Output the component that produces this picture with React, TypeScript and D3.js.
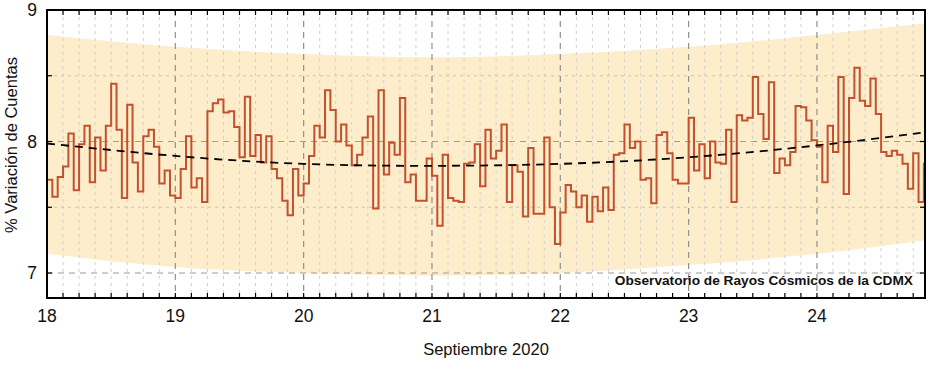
import * as d3 from "d3";

// horas desde el 18 sep 00:00 (un valor por hora)
const variacion = [
  7.71, 7.58, 7.73, 7.81, 8.06, 7.63, 7.98, 8.12, 7.69, 8.03, 7.78, 8.12,
  8.44, 8.09, 7.57, 8.28, 7.84, 7.62, 8.04, 8.09, 7.96, 7.68, 7.78, 7.59,
  7.57, 7.79, 8.04, 7.65, 7.72, 7.54, 8.23, 8.29, 8.32, 8.22, 8.23, 8.11,
  7.88, 8.34, 7.89, 8.05, 7.84, 8.04, 7.79, 7.72, 7.55, 7.44, 7.79, 7.59,
  7.68, 7.89, 8.12, 8.03, 8.39, 8.24, 8.0, 8.13, 7.97, 7.82, 7.9, 8.03,
  8.19, 7.49, 8.39, 7.75, 7.99, 7.9, 8.33, 7.69, 7.75, 7.55, 7.55, 7.87,
  7.74, 7.36, 7.9, 7.57, 7.55, 7.54, 7.83, 7.84, 7.98, 7.66, 8.09, 7.87,
  7.93, 8.13, 7.54, 7.82, 7.77, 7.43, 7.95, 7.45, 7.45, 8.03, 7.5, 7.22,
  7.46, 7.67, 7.62, 7.5, 7.59, 7.39, 7.58, 7.47, 7.65, 7.48, 7.9, 7.91,
  8.13, 7.95, 8.0, 7.71, 7.72, 7.53, 8.05, 8.07, 7.91, 7.71, 7.68, 7.68,
  8.18, 7.78, 7.98, 7.72, 8.0, 7.84, 7.83, 8.09, 7.54, 8.2, 8.16, 8.18,
  8.49, 8.21, 8.02, 8.45, 7.76, 7.87, 7.82, 7.92, 8.27, 8.26, 8.16, 8.01,
  7.96, 7.69, 8.12, 7.92, 8.49, 7.6, 8.33, 8.56, 8.31, 8.27, 8.48, 8.21,
  7.92, 7.89, 7.93, 7.9, 7.83, 7.64, 7.91, 7.54, 7.83,
];

// tendencia y banda
const diasTendencia = [18, 19, 20, 21, 22, 23, 24, 24.84];
const tendencia = [7.985, 7.89, 7.83, 7.815, 7.83, 7.88, 7.97, 8.07];
const bandaSup = [8.81, 8.72, 8.665, 8.64, 8.665, 8.72, 8.81, 8.9];
const bandaInf = [7.147, 7.046, 7.0, 6.98, 7.0, 7.06, 7.147, 7.25];

const diasTicks = [18, 19, 20, 21, 22, 23, 24];
const yTicks = [7, 8, 9];
const yMinor = [7.5, 8.5];

const width = 933;
const height = 370;
const margin = { top: 10, right: 8, bottom: 72, left: 47 };
const xEnd = 24.842;
const lineColor = "#c4502d";
const font = "'Liberation Sans', Arial, sans-serif";

export default function App() {
  const x = d3
    .scaleLinear()
    .domain([18, xEnd])
    .range([margin.left, width - margin.right]);
  const y = d3
    .scaleLinear()
    .domain([6.81, 9])
    .range([height - margin.bottom, margin.top]);

  const x0 = x.range()[0];
  const x1 = x.range()[1];
  const y0 = y.range()[0];
  const y1 = y.range()[1];

  const pts: [number, number][] = variacion.map((v, i) => [18 + i / 24, v]);
  pts.push([xEnd, variacion[variacion.length - 1]]);
  const stepLine = d3
    .line<[number, number]>()
    .x((d) => x(d[0]))
    .y((d) => y(d[1]))
    .curve(d3.curveStepAfter);

  const band = d3
    .area<number>()
    .x((d) => x(d))
    .y0((_, i) => y(bandaInf[i]))
    .y1((_, i) => y(bandaSup[i]))
    .curve(d3.curveNatural);

  const trend = d3
    .line<number>()
    .x((d) => x(d))
    .y((_, i) => y(tendencia[i]))
    .curve(d3.curveNatural);

  const minorX = d3.range(18, xEnd, 0.125).filter((d) => Math.abs(d - Math.round(d)) > 1e-6);
  const allXTicks = d3.range(18, xEnd, 0.125);

  return (
    <svg
      width={width}
      height={height}
      style={{ position: "absolute", left: 0, top: 0, background: "#fff" }}
      fontFamily={font}
    >
      <defs>
        <clipPath id="plot">
          <rect x={x0} y={y1} width={x1 - x0} height={y0 - y1} />
        </clipPath>
      </defs>
      <g clipPath="url(#plot)">
        <path d={band(diasTendencia) ?? ""} fill="#fdedcb" />
        {minorX.map((d) => (
          <line
            key={"mx" + d}
            x1={x(d)}
            x2={x(d)}
            y1={y1}
            y2={y0}
            stroke="#cfcfcf"
            strokeWidth={1}
            strokeDasharray="3,4"
          />
        ))}
        {yMinor.map((d) => (
          <line
            key={"my" + d}
            x1={x0}
            x2={x1}
            y1={y(d)}
            y2={y(d)}
            stroke="#cfc3a8"
            strokeWidth={1}
            strokeDasharray="3,4"
          />
        ))}
        {yTicks.map((d) => (
          <line
            key={"gy" + d}
            x1={x0}
            x2={x1}
            y1={y(d)}
            y2={y(d)}
            stroke="#a09a90"
            strokeWidth={1}
            strokeDasharray="6,5"
          />
        ))}
        {/* caja blanca de la leyenda */}
        <rect x={611} y={274} width={306} height={19} fill="#fff" />
        {diasTicks.map((d) => (
          <line
            key={"gx" + d}
            x1={x(d)}
            x2={x(d)}
            y1={y1}
            y2={y0}
            stroke="#8f8f8f"
            strokeWidth={1.2}
            strokeDasharray="6,5"
          />
        ))}
        <path d={stepLine(pts) ?? ""} fill="none" stroke={lineColor} strokeWidth={2} />
        <path
          d={trend(diasTendencia) ?? ""}
          fill="none"
          stroke="#000"
          strokeWidth={1.8}
          strokeDasharray="8,6"
        />
        <text
          x={913}
          y={285}
          textAnchor="end"
          fontSize={13.7}
          fontWeight="bold"
          fill="#111"
        >
          Observatorio de Rayos Cósmicos de la CDMX
        </text>
      </g>

      {/* ticks */}
      {allXTicks.map((d) => (
        <g key={"t" + d}>
          <line x1={x(d)} x2={x(d)} y1={y1} y2={y1 + 5} stroke="#000" strokeWidth={1.2} />
          <line x1={x(d)} x2={x(d)} y1={y0} y2={y0 - 5} stroke="#000" strokeWidth={1.2} />
        </g>
      ))}
      {[...yTicks, ...yMinor].map((d) => (
        <g key={"ty" + d}>
          <line x1={x0} x2={x0 + 5} y1={y(d)} y2={y(d)} stroke="#000" strokeWidth={1.2} />
          <line x1={x1} x2={x1 - 5} y1={y(d)} y2={y(d)} stroke="#000" strokeWidth={1.2} />
        </g>
      ))}
      <rect
        x={x0}
        y={y1}
        width={x1 - x0}
        height={y0 - y1}
        fill="none"
        stroke="#000"
        strokeWidth={2}
      />

      {yTicks.map((d) => (
        <text key={"ly" + d} x={37} y={y(d) + 6} textAnchor="end" fontSize={17.5} fill="#111">
          {d}
        </text>
      ))}
      {diasTicks.map((d) => (
        <text key={"lx" + d} x={x(d)} y={322} textAnchor="middle" fontSize={17.5} fill="#111">
          {d}
        </text>
      ))}
      <text x={486} y={355} textAnchor="middle" fontSize={16.5} fill="#111">
        Septiembre 2020
      </text>
      <text
        transform={`translate(17,145) rotate(-90)`}
        textAnchor="middle"
        fontSize={16.5}
        fill="#111"
      >
        % Variación de Cuentas
      </text>
    </svg>
  );
}
